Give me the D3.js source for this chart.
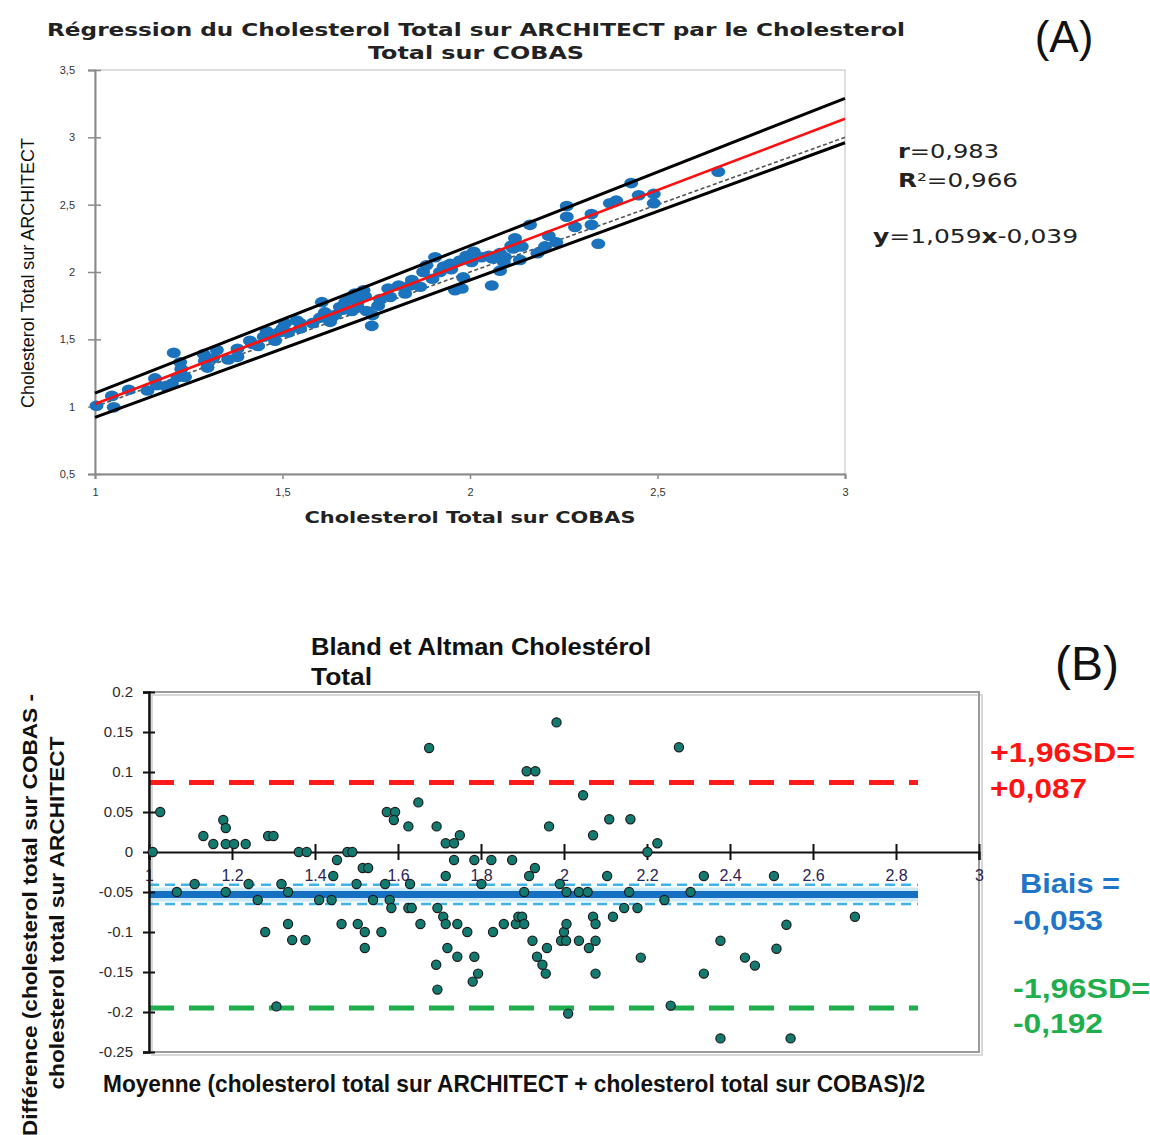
<!DOCTYPE html>
<html><head><meta charset="utf-8">
<script src="https://cdn.jsdelivr.net/npm/d3@7"></script>
<style>body{margin:0;background:#fff}svg{display:block}</style>
</head><body>
<script>
// ---------- Panel A data: [COBAS, ARCHITECT] ----------
const regCobas = [1.004,1.045,1.05,1.09,1.14,1.16,1.165,1.19,1.205,1.21,1.22,1.227,1.23,1.24,1.29,1.293,1.30,1.315,1.325,1.355,1.38,1.38,1.413,1.42,1.435,1.458,1.467,1.48,1.49,1.507,1.515,1.547,
1.538,1.547,1.605,1.613,1.627,1.653,1.667,1.685,1.693,1.70,1.716,1.724,1.738,1.755,1.782,1.787,1.81,1.827,1.845,1.867,1.875,1.884,1.90,1.907,1.93,1.947,1.96,1.973,1.978,1.982,1.99,2.004,2.01,2.058,2.08,2.09,2.11,
2.031,2.08,2.093,2.115,2.12,2.133,2.138,2.16,2.18,2.2,2.21,2.23,2.258,2.258,2.28,2.324,2.324,2.342,2.373,2.39,2.43,2.45,2.49,2.49,2.662,
1.64,1.66,1.68,1.70,1.72,1.74,1.76,1.58,1.60,1.45,1.50,1.84,1.92,1.95,2.05,2.06];
const regArchitect = [1.007,1.08,0.995,1.126,1.12,1.21,1.16,1.15,1.17,1.40,1.22,1.33,1.28,1.22,1.39,1.34,1.29,1.36,1.42,1.35,1.43,1.37,1.49,1.466,1.45,1.56,1.53,1.49,1.55,1.62,1.55,1.62,
1.64,1.58,1.776,1.70,1.63,1.74,1.776,1.71,1.84,1.776,1.865,1.71,1.60,1.75,1.877,1.815,1.90,1.84,1.94,1.89,2.0,2.05,1.95,2.11,2.04,2.06,1.865,2.085,1.877,1.96,2.12,2.075,2.15,1.90,2.14,2.075,2.195,
2.11,2.01,2.11,2.175,2.25,2.09,2.19,2.35,2.14,2.19,2.27,2.22,2.49,2.41,2.335,2.43,2.35,2.21,2.51,2.53,2.66,2.57,2.58,2.51,2.745,
1.68,1.72,1.80,1.74,1.82,1.68,1.80,1.62,1.66,1.52,1.58,1.90,2.00,2.02,2.12,2.10];
const regLineX = [1, 3];
const regFitY = [1.020, 3.138];      // y = 1.059x - 0.039
const regUpperY = [1.10, 3.29];
const regLowerY = [0.92, 2.96];
const identityY = [1, 3];
const aXTicks = [1, 1.5, 2, 2.5, 3];
const aYTicks = [0.5, 1, 1.5, 2, 2.5, 3, 3.5];
const aStats = ["r=0,983", "R²=0,966", "y=1,059x-0,039"];

// ---------- Panel B data: mean vs difference ----------
const baMean = [1.009,1.027,1.067,1.11,1.131,1.155,1.179,1.185,1.185,1.185,1.205,1.233,1.24,1.262,1.28,1.287,1.30,1.307,1.319,1.335,1.335,1.345,1.361,1.377,1.38,1.41,1.44,1.444,1.453,1.464,1.478,1.49,1.50,1.503,1.515,1.52,1.52,1.528,1.54,1.56,1.569,1.573,1.58,1.584,1.593,1.59,
1.625,1.625,1.633,1.629,1.649,1.654,1.675,1.693,1.692,1.695,1.695,1.709,1.715,1.715,1.715,1.719,1.735,1.735,1.749,1.743,1.743,1.767,1.78,1.784,1.784,1.793,1.801,1.825,1.829,1.855,1.875,1.884,1.89,1.899,1.904,1.904,1.91,1.931,1.916,1.93,1.924,1.935,1.948,1.956,1.959,1.964,1.982,1.99,1.993,2.0,2.006,2.005,2.006,2.01,2.036,2.036,2.046,2.057,2.06,2.07,2.07,2.076,2.076,2.076,2.104,2.109,2.118,
2.16,2.157,2.145,2.177,2.185,2.201,2.225,2.242,2.257,2.277,2.305,2.337,2.337,2.377,2.377,2.436,2.46,2.506,2.512,2.536,2.546,2.701];
const baDiff = [0,0.05,-0.05,-0.04,0.02,0.01,0.04,0.03,0.01,-0.05,0.01,0.01,-0.04,-0.06,-0.10,0.02,0.02,-0.193,-0.04,-0.05,-0.09,-0.11,0,-0.11,0,-0.06,-0.06,-0.03,-0.01,-0.09,0,0,-0.04,-0.09,-0.02,-0.10,-0.12,-0.02,-0.06,-0.10,-0.04,0.05,-0.06,-0.07,0.05,0.04,
0.032,-0.07,-0.07,-0.04,0.062,-0.09,0.13,0.032,-0.141,-0.172,-0.07,-0.081,-0.03,0.011,-0.09,-0.12,0.011,-0.01,0.021,-0.09,-0.131,-0.10,-0.162,-0.131,-0.01,-0.152,-0.04,-0.01,-0.10,-0.09,-0.01,-0.09,-0.081,-0.081,-0.09,-0.05,0.101,0.101,-0.03,-0.02,-0.111,-0.131,-0.141,-0.152,-0.12,0.032,0.162,-0.04,-0.111,-0.10,-0.09,-0.111,-0.05,-0.202,-0.05,-0.111,0.071,-0.05,-0.12,0.021,-0.081,-0.09,-0.111,-0.152,-0.03,0.041,-0.081,
0.041,-0.05,-0.07,-0.07,-0.132,0.0,0.011,-0.06,-0.192,0.131,-0.05,-0.03,-0.152,-0.111,-0.233,-0.132,-0.142,-0.03,-0.121,-0.091,-0.233,-0.081];
const baLineX = [1, 2.853];
const baBias = -0.053;
const baBiasCI = [-0.041, -0.065];
const baUpper = 0.087;
const baLower = -0.195;
const bXTicks = [1, 1.2, 1.4, 1.6, 1.8, 2, 2.2, 2.4, 2.6, 2.8, 3];
const bYTicks = [0.2, 0.15, 0.1, 0.05, 0, -0.05, -0.1, -0.15, -0.2, -0.25];
const bRightLabels = [["+1,96SD=", "+0,087"], ["Biais =", "-0,053"], ["-1,96SD=", "-0,192"]];

const W = 1150, H = 1135;
const svg = d3.select("body").append("svg").attr("width", W).attr("height", H)
  .style("font-family", "'Liberation Sans', Arial, sans-serif");

// ================= Panel A =================
const xA = d3.scaleLinear().domain([1, 3]).range([95, 845]);
const yA = d3.scaleLinear().domain([0.5, 3.5]).range([474, 70]);
const gA = svg.append("g");
gA.append("rect").attr("x", xA(1)).attr("y", yA(3.5)).attr("width", xA(3) - xA(1)).attr("height", yA(0.5) - yA(3.5))
  .attr("fill", "none").attr("stroke", "#d4d4d4").attr("stroke-width", 1.5);

const fmtA = d => String(d).replace(".", ",");
const axA_y = gA.append("g").attr("transform", `translate(${xA(1)},0)`)
  .call(d3.axisLeft(yA).tickValues(aYTicks).tickFormat(fmtA).tickSize(7).tickPadding(13));
axA_y.select(".domain").attr("stroke", "#8a8a8a").attr("stroke-width", 2);
axA_y.selectAll(".tick line").attr("x1", 6).attr("stroke", "#8a8a8a").attr("stroke-width", 1.5);
axA_y.selectAll(".tick text").attr("font-size", 11).attr("fill", "#333");

const axA_x = gA.append("g").attr("transform", `translate(0,${yA(0.5)})`)
  .call(d3.axisBottom(xA).tickValues(aXTicks).tickFormat(fmtA).tickSize(5).tickPadding(9));
axA_x.select(".domain").attr("stroke", "#8a8a8a").attr("stroke-width", 2);
axA_x.selectAll(".tick line").attr("stroke", "#8a8a8a").attr("stroke-width", 1.5);
axA_x.selectAll(".tick text").attr("font-size", 11).attr("fill", "#333");

const lineA = d3.line().x(d => xA(d[0])).y(d => yA(d[1]));
gA.append("path").datum(regLineX.map((x, i) => [x, identityY[i]])).attr("d", lineA)
  .attr("stroke", "#555").attr("stroke-width", 1.6).attr("stroke-dasharray", "4,2.5").attr("fill", "none");
// points
gA.append("g").selectAll("ellipse").data(regCobas.map((c, i) => [c, regArchitect[i]])).join("ellipse")
  .attr("cx", d => xA(d[0])).attr("cy", d => yA(d[1])).attr("rx", 7).attr("ry", 5.3)
  .attr("fill", "#1b72bd");
gA.append("path").datum(regLineX.map((x, i) => [x, regFitY[i]])).attr("d", lineA)
  .attr("stroke", "#ff1010").attr("stroke-width", 2.6).attr("fill", "none");
gA.append("path").datum(regLineX.map((x, i) => [x, regUpperY[i]])).attr("d", lineA)
  .attr("stroke", "#000").attr("stroke-width", 3).attr("fill", "none");
gA.append("path").datum(regLineX.map((x, i) => [x, regLowerY[i]])).attr("d", lineA)
  .attr("stroke", "#000").attr("stroke-width", 3).attr("fill", "none");

// Titles A
svg.append("text").attr("x", 476).attr("y", 36).attr("text-anchor", "middle")
  .style("font-family", "'DejaVu Sans', Verdana, sans-serif").attr("font-weight", "bold").attr("font-size", 17).attr("fill", "#222")
  .attr("textLength", 858).attr("lengthAdjust", "spacingAndGlyphs")
  .text("Régression du Cholesterol Total sur ARCHITECT par le Cholesterol");
svg.append("text").attr("x", 476).attr("y", 59).attr("text-anchor", "middle")
  .style("font-family", "'DejaVu Sans', Verdana, sans-serif").attr("font-weight", "bold").attr("font-size", 17).attr("fill", "#222")
  .attr("textLength", 216).attr("lengthAdjust", "spacingAndGlyphs")
  .text("Total sur COBAS");
svg.append("text").attr("x", 470).attr("y", 523).attr("text-anchor", "middle")
  .style("font-family", "'DejaVu Sans', Verdana, sans-serif").attr("font-weight", "bold").attr("font-size", 16).attr("fill", "#222")
  .attr("textLength", 331).attr("lengthAdjust", "spacingAndGlyphs")
  .text("Cholesterol Total sur COBAS");
svg.append("text").attr("transform", "translate(34,273) rotate(-90)").attr("text-anchor", "middle")
  .style("font-family", "'Liberation Sans Narrow', 'Liberation Sans', sans-serif").attr("font-size", 19).attr("fill", "#111")
  .attr("textLength", 270).attr("lengthAdjust", "spacingAndGlyphs")
  .text("Cholesterol Total sur ARCHITECT");
svg.append("text").attr("x", 1064).attr("y", 52).attr("text-anchor", "middle")
  .attr("font-size", 44).attr("fill", "#111").text("(A)");

// Stats
const statFont = "'DejaVu Sans', Verdana, sans-serif";
const st1 = svg.append("text").attr("x", 898).attr("y", 158).style("font-family", statFont).attr("font-size", 19).attr("fill", "#222")
  .attr("textLength", 101).attr("lengthAdjust", "spacingAndGlyphs");
st1.append("tspan").attr("font-weight", "bold").text(aStats[0].slice(0, 1));
st1.append("tspan").text(aStats[0].slice(1));
const st2 = svg.append("text").attr("x", 898).attr("y", 187).style("font-family", statFont).attr("font-size", 19).attr("fill", "#222")
  .attr("textLength", 120).attr("lengthAdjust", "spacingAndGlyphs");
st2.append("tspan").attr("font-weight", "bold").text(aStats[1].slice(0, 1));
st2.append("tspan").text(aStats[1].slice(1));
const st3 = svg.append("text").attr("x", 873).attr("y", 243).style("font-family", statFont).attr("font-size", 19).attr("fill", "#222")
  .attr("textLength", 205).attr("lengthAdjust", "spacingAndGlyphs");
st3.append("tspan").attr("font-weight", "bold").text("y");
st3.append("tspan").text("=1,059");
st3.append("tspan").attr("font-weight", "bold").text("x");
st3.append("tspan").text("-0,039");

// ================= Panel B =================
const xB = d3.scaleLinear().domain([1, 3]).range([149, 979]);
const yB = d3.scaleLinear().domain([-0.25, 0.2]).range([1052, 692]);
const gB = svg.append("g");
gB.append("rect").attr("x", xB(1) + 3).attr("y", yB(0.2) + 3).attr("width", xB(3) - xB(1)).attr("height", yB(-0.25) - yB(0.2))
  .attr("fill", "none").attr("stroke", "#d8d8d8").attr("stroke-width", 2);
gB.append("rect").attr("x", xB(1)).attr("y", yB(0.2)).attr("width", xB(3) - xB(1)).attr("height", yB(-0.25) - yB(0.2))
  .attr("fill", "none").attr("stroke", "#9b9b9b").attr("stroke-width", 2);

const lineB = d3.line().x(d => xB(d[0])).y(d => yB(d[1]));
const hLine = v => baLineX.map(x => [x, v]);
// bias halo + CI dashed
gB.append("path").datum(hLine(baBias)).attr("d", lineB).attr("stroke", "#bfe3f7").attr("stroke-width", 14).attr("fill", "none").attr("opacity", 0.8);
baBiasCI.forEach(v => gB.append("path").datum(hLine(v)).attr("d", lineB)
  .attr("stroke", "#3db3ec").attr("stroke-width", 2.4).attr("stroke-dasharray", "10,6").attr("fill", "none"));
gB.append("path").datum(hLine(baBias)).attr("d", lineB).attr("stroke", "#1570c2").attr("stroke-width", 7).attr("fill", "none");
gB.append("path").datum(hLine(baUpper)).attr("d", lineB).attr("stroke", "#ff1a1a").attr("stroke-width", 5).attr("stroke-dasharray", "25,15").attr("fill", "none");
gB.append("path").datum(hLine(baLower)).attr("d", lineB).attr("stroke", "#1fae4d").attr("stroke-width", 5).attr("stroke-dasharray", "25,15").attr("fill", "none");

// axes
const axB_x = gB.append("g").attr("transform", `translate(0,${yB(0)})`)
  .call(d3.axisBottom(xB).tickValues(bXTicks).tickFormat(d => String(+d.toFixed(1))).tickSize(8).tickPadding(10));
axB_x.select(".domain").attr("stroke", "#111").attr("stroke-width", 2.2);
axB_x.selectAll(".tick line").attr("y1", -8).attr("stroke", "#111").attr("stroke-width", 2);
axB_x.selectAll(".tick text").attr("font-size", 16).attr("fill", "#2a2455");

const axB_y = gB.append("g").attr("transform", `translate(${xB(1)},0)`)
  .call(d3.axisLeft(yB).tickValues(bYTicks).tickFormat(d => String(+d.toFixed(2))).tickSize(6).tickPadding(10));
axB_y.select(".domain").attr("stroke", "#111").attr("stroke-width", 2.4);
axB_y.selectAll(".tick line").attr("x1", 6).attr("stroke", "#111").attr("stroke-width", 2);
axB_y.selectAll(".tick text").attr("font-size", 15).attr("fill", "#2b2b2b");

// points
gB.append("g").selectAll("circle").data(baMean.map((m, i) => [m, baDiff[i]])).join("circle")
  .attr("cx", d => xB(d[0])).attr("cy", d => yB(d[1])).attr("r", 4.6)
  .attr("fill", "#137a70").attr("stroke", "#1c1c1c").attr("stroke-width", 1.2);

// Titles B
const narrow = "'Liberation Sans Narrow', 'Liberation Sans', Arial, sans-serif";
svg.append("text").attr("x", 311).attr("y", 655).style("font-family", narrow).attr("font-weight", "bold").attr("font-size", 23).attr("fill", "#111")
  .attr("textLength", 340).attr("lengthAdjust", "spacingAndGlyphs").text("Bland et Altman  Cholestérol");
svg.append("text").attr("x", 311).attr("y", 685).style("font-family", narrow).attr("font-weight", "bold").attr("font-size", 23).attr("fill", "#111")
  .attr("textLength", 61).attr("lengthAdjust", "spacingAndGlyphs").text("Total");
svg.append("text").attr("x", 1087).attr("y", 680).attr("text-anchor", "middle")
  .attr("font-size", 48).attr("fill", "#111").text("(B)");
svg.append("text").attr("x", 103).attr("y", 1092).style("font-family", narrow).attr("font-weight", "bold").attr("font-size", 23).attr("fill", "#111")
  .attr("textLength", 822).attr("lengthAdjust", "spacingAndGlyphs")
  .text("Moyenne (cholesterol total sur ARCHITECT + cholesterol total sur COBAS)/2");
svg.append("text").attr("transform", "translate(37,915) rotate(-90)").attr("text-anchor", "middle")
  .attr("font-weight", "bold").attr("font-size", 21).attr("fill", "#111")
  .attr("textLength", 442).attr("lengthAdjust", "spacingAndGlyphs")
  .text("Différence (cholesterol total sur COBAS -");
svg.append("text").attr("transform", "translate(64,913) rotate(-90)").attr("text-anchor", "middle")
  .attr("font-weight", "bold").attr("font-size", 21).attr("fill", "#111")
  .attr("textLength", 353).attr("lengthAdjust", "spacingAndGlyphs")
  .text("cholesterol total sur ARCHITECT");

// right annotations
const annot = [
  {x: 990, y: [762, 798], w: [145, 97], c: "#ff1414"},
  {x: 1020, y: [893, 930], w: [100, 90], c: "#1f76c8", x2: 1013},
  {x: 1013, y: [998, 1033], w: [137, 90], c: "#1fae4d"}
];
bRightLabels.forEach((lab, i) => {
  const a = annot[i];
  svg.append("text").attr("x", a.x).attr("y", a.y[0]).attr("font-weight", "bold").attr("font-size", 28).attr("fill", a.c)
    .attr("textLength", a.w[0]).attr("lengthAdjust", "spacingAndGlyphs").text(lab[0]);
  svg.append("text").attr("x", a.x2 || a.x).attr("y", a.y[1]).attr("font-weight", "bold").attr("font-size", 28).attr("fill", a.c)
    .attr("textLength", a.w[1]).attr("lengthAdjust", "spacingAndGlyphs").text(lab[1]);
});
</script>
</body></html>
